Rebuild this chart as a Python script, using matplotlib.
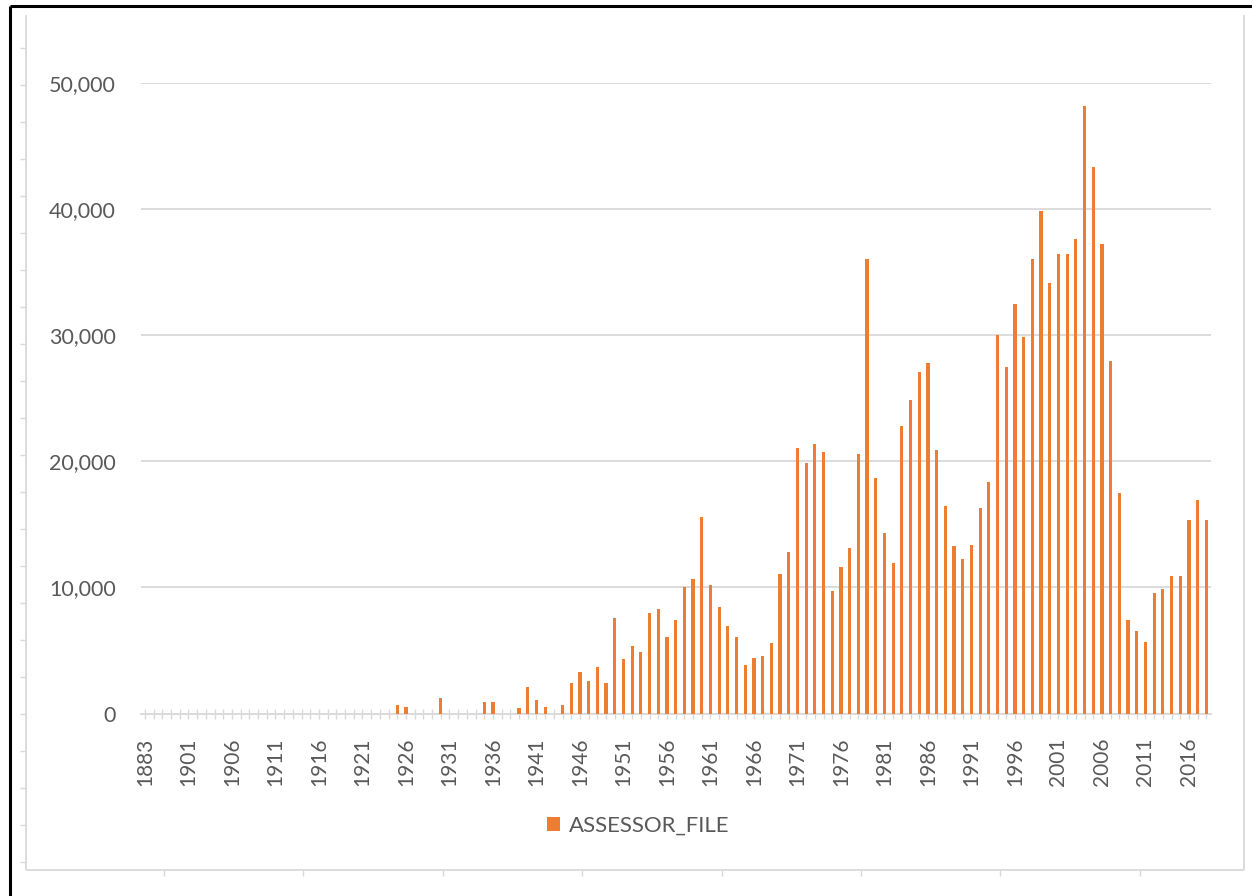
import matplotlib
matplotlib.use("Agg")
import matplotlib.pyplot as plt
from matplotlib.lines import Line2D
from matplotlib.ticker import FuncFormatter

# categories: a few early years, then one per year from 1901
years = [1883, 1885, 1890, 1895, 1900] + list(range(1901, 2019))

# ASSESSOR_FILE counts per year
early = [0, 0, 0, 0, 0]
v1901_1910 = [0, 0, 0, 0, 0, 0, 0, 0, 0, 0]
v1911_1920 = [0, 0, 0, 0, 0, 0, 0, 0, 0, 0]
v1921_1930 = [0, 0, 0, 0, 700, 550, 0, 0, 0, 1250]
v1931_1940 = [0, 0, 0, 0, 900, 900, 0, 0, 400, 2100]
v1941_1950 = [1100, 550, 0, 700, 2450, 3300, 2600, 3650, 2450, 7600]
v1951_1960 = [4350, 5350, 4850, 8000, 8300, 6050, 7450, 10000, 10700, 15550]
v1961_1970 = [10220, 8480, 6950, 6080, 3840, 4370, 4550, 5560, 11070, 12810]
v1971_1980 = [21050, 19860, 21390, 20700, 9700, 11600, 13160, 20550, 36070, 18670]
v1981_1990 = [14320, 11940, 22760, 24880, 27090, 27780, 20920, 16430, 13320, 12290]
v1991_2000 = [13330, 16270, 18320, 29980, 27440, 32460, 29840, 36050, 39880, 34140]
v2001_2010 = [36440, 36440, 37620, 48150, 43330, 37260, 27940, 17460, 7450, 6560]
v2011_2018 = [5700, 9530, 9860, 10900, 10900, 15380, 16920, 15380]

counts = (early + v1901_1910 + v1911_1920 + v1921_1930 + v1931_1940 + v1941_1950
          + v1951_1960 + v1961_1970 + v1971_1980 + v1981_1990 + v1991_2000
          + v2001_2010 + v2011_2018)

W, H = 1252, 896
txt = "#595959"
light = "#d9d9d9"
orange = "#ED7D31"
plt.rcParams['font.family'] = ['Lato', 'DejaVu Sans']

fig = plt.figure(figsize=(W / 100, H / 100), dpi=100)

# plot area in pixels
left, right, bottom, top = 140.6, 1210.7, 713.5, 83
ax = fig.add_axes([left / W, 1 - bottom / H, (right - left) / W, (bottom - top) / H])

x = list(range(len(years)))
ax.bar(x, counts, width=0.37, color=orange, label="ASSESSOR_FILE", zorder=3)

ax.set_xlim(-0.5, len(years) - 0.5)
ax.set_ylim(0, 50000)
ax.set_yticks([0, 10000, 20000, 30000, 40000, 50000])
ax.yaxis.set_major_formatter(FuncFormatter(lambda v, p: f"{int(v):,}"))
ax.yaxis.grid(True, color=light, lw=1.3, zorder=0)
ax.set_axisbelow(True)

ax.set_xticks(x)
ax.set_xticklabels([str(y) if i % 5 == 0 else "" for i, y in enumerate(years)], rotation=90)

for s in ["top", "right", "left"]:
    ax.spines[s].set_visible(False)
ax.spines["bottom"].set_color(light)
ax.spines["bottom"].set_linewidth(1.3)

ax.tick_params(axis="x", direction="inout", length=7, width=1.0, color=light,
               labelsize=15, labelcolor=txt, pad=14)
ax.tick_params(axis="y", length=0, labelsize=15.5, labelcolor=txt, pad=18)

# legend
fig.legend(loc="center", bbox_to_anchor=(638 / W, 1 - 826 / H), frameon=False,
           fontsize=16, labelcolor=txt, handlelength=0.6, handleheight=0.6,
           handletextpad=0.4)


def px_line(xs, ys, color, lw):
    fig.add_artist(Line2D([v / W for v in xs], [1 - v / H for v in ys],
                          color=color, lw=lw, solid_capstyle="butt"))


# outer chart frame (light grey) with small ruler ticks
px_line([26, 26], [15, 870], light, 1.3)
px_line([1244, 1244], [15, 870], light, 1.3)
px_line([26, 1244], [870, 870], light, 1.3)
for k in range(23):
    yy = 48 + 37 * k
    px_line([20, 26], [yy, yy], light, 1.0)
for k in range(8):
    xx = 164 + 139.4 * k
    px_line([xx, xx], [870, 876], light, 1.0)

# black screenshot edges
px_line([10, 10], [6, 896], "black", 2.2)
px_line([10, 1252], [6, 6], "black", 2.2)

fig.savefig("out.png", dpi=100)
